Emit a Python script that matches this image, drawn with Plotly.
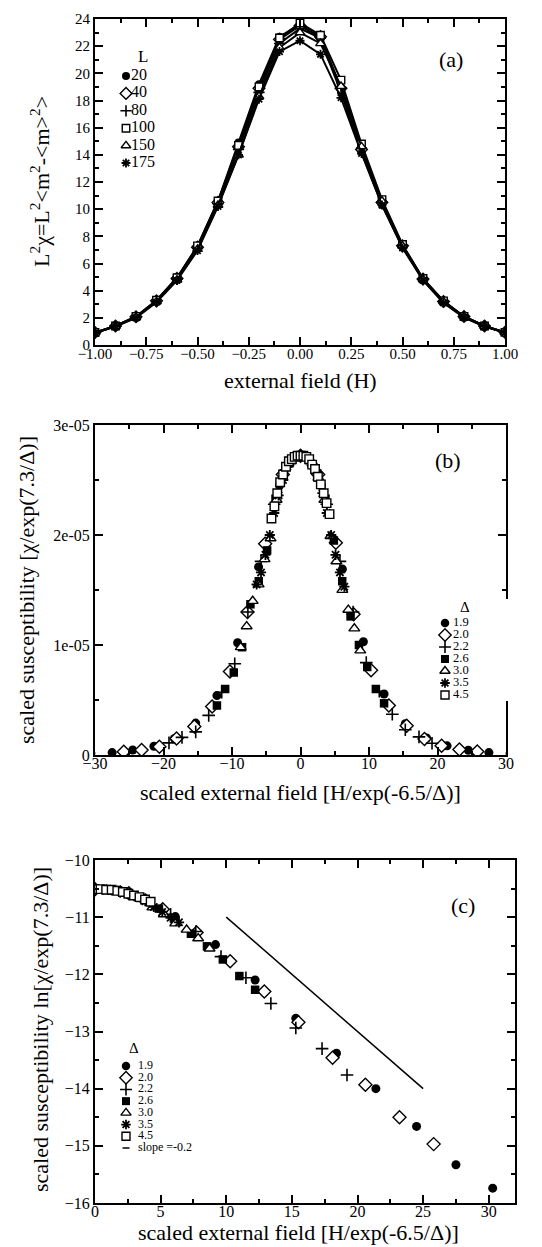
import plotly.graph_objects as go

# ---------------- data ----------------
# panel (a): L^2 chi vs H
a_H = [-1.0, -0.9, -0.8, -0.7, -0.6, -0.5, -0.4, -0.3, -0.2, -0.1, 0.0,
       0.1, 0.2, 0.3, 0.4, 0.5, 0.6, 0.7, 0.8, 0.9, 1.0]
a_labels = ["20", "40", "80", "100", "150", "175"]
a_L20 = [0.92, 1.40, 2.08, 3.28, 4.95, 7.25, 10.6, 14.9, 19.2, 22.7, 23.6, 22.5, 18.6, 14.2, 10.3, 7.2, 4.8, 3.15, 2.05, 1.38, 0.92]
a_L40 = [0.92, 1.40, 2.08, 3.25, 4.90, 7.20, 10.5, 14.6, 18.9, 22.5, 23.5, 22.7, 18.9, 14.4, 10.5, 7.3, 4.85, 3.2, 2.1, 1.40, 0.93]
a_L80 = [0.90, 1.38, 2.05, 3.20, 4.85, 7.10, 10.4, 14.4, 18.6, 22.2, 23.3, 22.6, 18.9, 14.5, 10.5, 7.3, 4.85, 3.2, 2.1, 1.40, 0.92]
a_L100 = [0.92, 1.40, 2.10, 3.30, 4.95, 7.30, 10.6, 14.7, 19.0, 22.6, 23.7, 22.8, 19.5, 14.8, 10.7, 7.4, 4.9, 3.25, 2.1, 1.40, 0.93]
a_L150 = [0.90, 1.38, 2.05, 3.20, 4.80, 7.05, 10.3, 14.0, 18.3, 21.9, 23.0, 22.2, 19.05, 14.6, 10.6, 7.3, 4.85, 3.2, 2.1, 1.38, 0.92]
a_L175 = [0.88, 1.35, 2.00, 3.15, 4.75, 6.95, 10.2, 14.0, 18.1, 21.6, 22.4, 21.4, 18.2, 14.1, 10.3, 7.15, 4.75, 3.1, 2.02, 1.35, 0.90]
a_series = [a_L20, a_L40, a_L80, a_L100, a_L150, a_L175]

# panel (b): scaled susceptibility (units of 1e-05) vs scaled field
d_labels = ["1.9", "2.0", "2.2", "2.6", "3.0", "3.5", "4.5"]
b_x19 = [-30.6, -27.5, -24.5, -21.4, -18.4, -15.3, -12.2, -9.18, -6.12, -3.06, 0, 3.06, 6.12, 9.18, 12.2, 15.3, 18.4, 21.4, 24.5, 27.5, 30.6]
b_y19 = [0.015, 0.022, 0.045, 0.08, 0.15, 0.29, 0.54, 1.02, 1.71, 2.45, 2.72, 2.45, 1.69, 1.03, 0.555, 0.285, 0.155, 0.083, 0.043, 0.022, 0.0146]
b_x20 = [-25.8, -23.2, -20.6, -18.1, -15.5, -12.9, -10.3, -7.74, -5.16, -2.58, 0, 2.58, 5.16, 7.74, 10.3, 12.9, 15.5, 18.1, 20.6, 23.2, 25.8]
b_y20 = [0.03, 0.045, 0.076, 0.15, 0.26, 0.44, 0.76, 1.30, 1.92, 2.55, 2.72, 2.55, 1.93, 1.28, 0.77, 0.45, 0.265, 0.145, 0.085, 0.05, 0.031]
b_x22 = [-19.2, -17.3, -15.3, -13.4, -11.5, -9.6, -7.68, -5.76, -3.84, -1.92, 0, 1.92, 3.84, 5.76, 7.68, 9.6, 11.5, 13.4, 15.3, 17.3, 19.2]
b_y22 = [0.11, 0.16, 0.21, 0.36, 0.57, 0.83, 1.30, 1.76, 2.28, 2.62, 2.72, 2.62, 2.28, 1.76, 1.30, 0.84, 0.58, 0.37, 0.23, 0.165, 0.107]
b_x26 = [-12.2, -11.0, -9.74, -8.53, -7.31, -6.09, -4.87, -3.65, -2.44, -1.22, 0, 1.22, 2.44, 3.65, 4.87, 6.09, 7.31, 8.53, 9.74, 11.0, 12.2]
b_y26 = [0.45, 0.60, 0.75, 0.98, 1.37, 1.58, 1.86, 2.33, 2.56, 2.68, 2.72, 2.68, 2.56, 2.33, 1.95, 1.58, 1.26, 1.00, 0.80, 0.60, 0.47]
b_x30 = [-8.73, -7.86, -6.98, -6.11, -5.24, -4.37, -3.49, -2.62, -1.75, -0.87, 0, 0.87, 1.75, 2.62, 3.49, 4.37, 5.24, 6.11, 6.98, 7.86, 8.73]
b_y30 = [0.98, 1.17, 1.40, 1.55, 1.78, 1.97, 2.32, 2.52, 2.65, 2.70, 2.72, 2.70, 2.65, 2.52, 2.32, 1.99, 1.76, 1.50, 1.32, 1.15, 0.95]
b_x35 = [-6.4, -5.76, -5.12, -4.48, -3.84, -3.2, -2.56, -1.92, -1.28, -0.64, 0, 0.64, 1.28, 1.92, 2.56, 3.2, 3.84, 4.48, 5.12, 5.76, 6.4]
b_y35 = [1.55, 1.66, 1.82, 2.00, 2.20, 2.36, 2.50, 2.62, 2.68, 2.71, 2.72, 2.71, 2.68, 2.62, 2.52, 2.38, 2.20, 2.00, 1.82, 1.66, 1.53]
b_x45 = [-4.24, -3.81, -3.39, -2.97, -2.54, -2.12, -1.7, -1.27, -0.85, -0.42, 0, 0.42, 0.85, 1.27, 1.7, 2.12, 2.54, 2.97, 3.39, 3.81, 4.24]
b_y45 = [2.15, 2.26, 2.38, 2.48, 2.55, 2.62, 2.67, 2.69, 2.71, 2.72, 2.72, 2.72, 2.71, 2.69, 2.64, 2.60, 2.53, 2.46, 2.38, 2.29, 2.19]
b_xs = [b_x19, b_x20, b_x22, b_x26, b_x30, b_x35, b_x45]
b_ys = [b_y19, b_y20, b_y22, b_y26, b_y30, b_y35, b_y45]
b_yticks = [0, 1, 2, 3]
b_yticktext = ["0", "1e-05", "2e-05", "3e-05"]

# panel (c): ln of scaled susceptibility vs scaled field (positive side)
c_x19 = [0, 3.06, 6.12, 9.18, 12.2, 15.3, 18.4, 21.4, 24.5, 27.5, 30.3]
c_y19 = [-10.51, -10.62, -10.99, -11.48, -12.10, -12.77, -13.38, -14.00, -14.66, -15.33, -15.74]
c_x20 = [0, 2.58, 5.16, 7.74, 10.3, 12.9, 15.5, 18.1, 20.6, 23.2, 25.8]
c_y20 = [-10.51, -10.58, -10.86, -11.27, -11.77, -12.30, -12.84, -13.46, -13.93, -14.50, -14.97]
c_x22 = [0, 1.92, 3.84, 5.76, 7.68, 9.6, 11.5, 13.4, 15.3, 17.3, 19.2]
c_y22 = [-10.51, -10.55, -10.69, -10.95, -11.25, -11.69, -12.06, -12.51, -12.94, -13.30, -13.76]
c_x26 = [0, 1.22, 2.44, 3.65, 4.87, 6.09, 7.31, 8.53, 9.74, 11.0, 12.2]
c_y26 = [-10.51, -10.53, -10.57, -10.67, -10.85, -11.06, -11.29, -11.51, -11.74, -12.03, -12.27]
c_x30 = [0, 0.87, 1.75, 2.62, 3.49, 4.37, 5.24, 6.11, 6.98, 7.86, 8.73]
c_y30 = [-10.51, -10.52, -10.54, -10.59, -10.67, -10.83, -10.95, -11.11, -11.22, -11.37, -11.55]
c_x35 = [0, 0.64, 1.28, 1.92, 2.56, 3.2, 3.84, 4.48, 5.12, 5.76, 6.4]
c_y35 = [-10.51, -10.52, -10.53, -10.55, -10.59, -10.65, -10.72, -10.82, -10.91, -11.01, -11.09]
c_x45 = [0, 0.42, 0.85, 1.27, 1.7, 2.12, 2.54, 2.97, 3.39, 3.81, 4.24]
c_y45 = [-10.51, -10.51, -10.52, -10.52, -10.54, -10.56, -10.59, -10.62, -10.65, -10.69, -10.73]
c_xs = [c_x19, c_x20, c_x22, c_x26, c_x30, c_x35, c_x45]
c_ys = [c_y19, c_y20, c_y22, c_y26, c_y30, c_y35, c_y45]
slope_x = [10, 25]
slope_y = [-11, -14]
slope_label = "slope =-0.2"

# ---------------- styles ----------------
W, H = 542, 1247
FONT = "Liberation Serif"


def fx(p):
    return p / W


def fy(p):
    return 1 - p / H


def sym(i, size):
    lw = 1.4
    styles = [
        dict(symbol="circle", color="black", size=size, line=dict(width=0, color="black")),
        dict(symbol="diamond", color="white", size=size + 1, line=dict(width=lw, color="black")),
        dict(symbol="cross-thin", color="black", size=size, line=dict(width=1.6, color="black")),
        dict(symbol="square", color="black", size=size - 0.5, line=dict(width=0, color="black")),
        dict(symbol="triangle-up", color="white", size=size + 0.5, line=dict(width=lw, color="black")),
        dict(symbol="asterisk", color="black", size=size - 0.5, line=dict(width=1.8, color="black")),
        dict(symbol="square", color="white", size=size - 0.5, line=dict(width=lw, color="black")),
    ]
    return styles[i]


a_sym_idx = [0, 1, 2, 6, 4, 5]

fig = go.Figure()

# panel (a)
for k, ys in enumerate(a_series):
    fig.add_trace(go.Scatter(x=a_H, y=ys, mode="lines+markers",
                             line=dict(color="black", width=2),
                             marker=sym(a_sym_idx[k], 8),
                             xaxis="x", yaxis="y", showlegend=False))

# panel (b)
for k in range(len(d_labels)):
    fig.add_trace(go.Scatter(x=b_xs[k], y=b_ys[k], mode="markers",
                             marker=sym(k, 9), xaxis="x2", yaxis="y2", showlegend=False))

# panel (c)
for k in range(len(d_labels)):
    fig.add_trace(go.Scatter(x=c_xs[k], y=c_ys[k], mode="markers",
                             marker=sym(k, 9), xaxis="x3", yaxis="y3", showlegend=False))
fig.add_trace(go.Scatter(x=slope_x, y=slope_y, mode="lines", line=dict(color="black", width=1.5),
                         xaxis="x3", yaxis="y3", showlegend=False))


# custom legends (helper axes, rows by index)
def add_legend(labels, symidx, size, ax, textx, fsize):
    for i, lab in enumerate(labels):
        fig.add_trace(go.Scatter(x=[0], y=[i], mode="markers", marker=sym(symidx[i], size),
                                 xaxis="x" + ax, yaxis="y" + ax, showlegend=False, cliponaxis=False))
    fig.add_trace(go.Scatter(x=[textx] * len(labels), y=list(range(len(labels))), mode="text",
                             text=labels, textposition="middle right",
                             textfont=dict(family=FONT, size=fsize, color="black"),
                             xaxis="x" + ax, yaxis="y" + ax, showlegend=False, cliponaxis=False))


add_legend(a_labels, a_sym_idx, 8, "4", 0.5, 16)
add_legend(d_labels, list(range(7)), 8.5, "5", 0.8, 12.5)
add_legend(d_labels, list(range(7)), 8.5, "6", 1.2, 12)
# slope entry of legend (c)
fig.add_trace(go.Scatter(x=[-0.35, 0.35], y=[len(d_labels)] * 2, mode="lines",
                         line=dict(color="black", width=1.5), xaxis="x6", yaxis="y6",
                         showlegend=False, cliponaxis=False))
fig.add_trace(go.Scatter(x=[1.2], y=[len(d_labels)], mode="text", text=[slope_label],
                         textposition="middle right",
                         textfont=dict(family=FONT, size=12, color="black"),
                         xaxis="x6", yaxis="y6", showlegend=False, cliponaxis=False))

axis_common = dict(showline=True, linewidth=2, linecolor="black", mirror="allticks",
                   ticks="inside", ticklen=8, tickwidth=1.5, tickcolor="black",
                   showgrid=False, zeroline=False, automargin=False)
hidden = dict(visible=False, automargin=False, showgrid=False, zeroline=False)

fig.update_layout(
    template="none",
    width=W, height=H,
    margin=dict(l=0, r=0, t=0, b=0, pad=0, autoexpand=False),
    paper_bgcolor="white", plot_bgcolor="white",
    font=dict(family=FONT, color="black"),
    xaxis=dict(axis_common, domain=[fx(87), fx(497)], range=[-1, 1], anchor="y",
               tickvals=[-1, -0.75, -0.5, -0.25, 0, 0.25, 0.5, 0.75, 1], tickformat=".2f",
               tickfont=dict(size=15), ticklabelstandoff=-6,
               minor=dict(ticks="inside", ticklen=4, tickwidth=1.5, dtick=0.125, tick0=0, tickcolor="black")),
    yaxis=dict(axis_common, domain=[fy(337), fy(11)], range=[0, 24], anchor="x",
               dtick=2, tick0=0, tickfont=dict(size=15),
               minor=dict(ticks="inside", ticklen=4, tickwidth=1.5, dtick=1, tick0=0, tickcolor="black")),
    xaxis2=dict(axis_common, domain=[fx(87), fx(498)], range=[-30, 30], anchor="y2",
                dtick=10, tick0=0, tickfont=dict(size=16), ticklabelstandoff=-7,
                minor=dict(ticks="inside", ticklen=4, tickwidth=1.5, dtick=5, tick0=0, tickcolor="black")),
    yaxis2=dict(axis_common, domain=[fy(747), fy(417)], range=[0, 3], anchor="x2",
                tickvals=b_yticks, ticktext=b_yticktext, tickfont=dict(size=16),
                minor=dict(ticks="inside", ticklen=4, tickwidth=1.5, dtick=0.5, tick0=0, tickcolor="black")),
    xaxis3=dict(axis_common, domain=[fx(87), fx(507)], range=[0, 32], anchor="y3",
                dtick=5, tick0=0, tickfont=dict(size=16), ticklabelstandoff=-7,
                minor=dict(ticks="inside", ticklen=4, tickwidth=1.5, dtick=2.5, tick0=0, tickcolor="black")),
    yaxis3=dict(axis_common, domain=[fy(1195), fy(852)], range=[-16, -10], anchor="x3",
                dtick=1, tick0=0, tickfont=dict(size=16),
                minor=dict(ticks="inside", ticklen=4, tickwidth=1.5, dtick=0.5, tick0=0, tickcolor="black")),
    # legend helper axes
    xaxis4=dict(hidden, domain=[fx(113), fx(213)], range=[-0.5, 9.5], anchor="y4"),
    yaxis4=dict(hidden, domain=[fy(163.7), fy(41.9)], range=[5.5, -1.5], anchor="x4"),
    xaxis5=dict(hidden, domain=[fx(432), fx(532)], range=[-0.5, 9.5], anchor="y5"),
    yaxis5=dict(hidden, domain=[fy(693), fy(591)], range=[6.5, -2], anchor="x5"),
    xaxis6=dict(hidden, domain=[fx(113), fx(213)], range=[-0.5, 9.5], anchor="y6"),
    yaxis6=dict(hidden, domain=[fy(1145.85), fy(1034.6)], range=[7.5, -2], anchor="x6"),
)

ann = []
C = dict(showarrow=False, xanchor="center", yanchor="middle")
# legend titles
ann.append(dict(C, text="L", x=1.7, y=-1.12, xref="x4", yref="y4", font=dict(size=17)))
ann.append(dict(C, text="Δ", x=2.0, y=-1.3, xref="x5", yref="y5", font=dict(size=15)))
ann.append(dict(C, text="Δ", x=0.8, y=-1.5, xref="x6", yref="y6", font=dict(size=15)))
# panel labels
for t, px, py in [("(a)", 443, 52), ("(b)", 440, 453), ("(c)", 455, 897)]:
    ann.append(dict(C, text=t, x=fx(px), y=fy(py), xref="paper", yref="paper",
                    font=dict(size=22)))
# axis titles
ann.append(dict(C, text="external field (H)", x=fx(292), y=fy(373), xref="paper", yref="paper",
                font=dict(size=22)))
ann.append(dict(C, text="scaled external field [H/exp(-6.5/Δ)]", x=fx(292), y=fy(784),
                xref="paper", yref="paper", font=dict(size=22)))
ann.append(dict(C, text="scaled external field [H/exp(-6.5/Δ)]", x=fx(290), y=fy(1224),
                xref="paper", yref="paper", font=dict(size=22)))
ann.append(dict(C, text="L<sup>2</sup>χ=L<sup>2</sup>&lt;m<sup>2</sup>-&lt;m&gt;<sup>2</sup>&gt;",
                x=fx(32), y=fy(174), xref="paper", yref="paper", textangle=-90,
                font=dict(size=22)))
ann.append(dict(C, text="scaled susceptibility [χ/exp(7.3/Δ)]", x=fx(18), y=fy(582),
                xref="paper", yref="paper", textangle=-90, font=dict(size=22)))
ann.append(dict(C, text="scaled susceptibility ln[χ/exp(7.3/Δ)]", x=fx(32), y=fy(1022),
                xref="paper", yref="paper", textangle=-90, font=dict(size=22)))
fig.update_layout(annotations=ann)

fig.write_html("out.html")
